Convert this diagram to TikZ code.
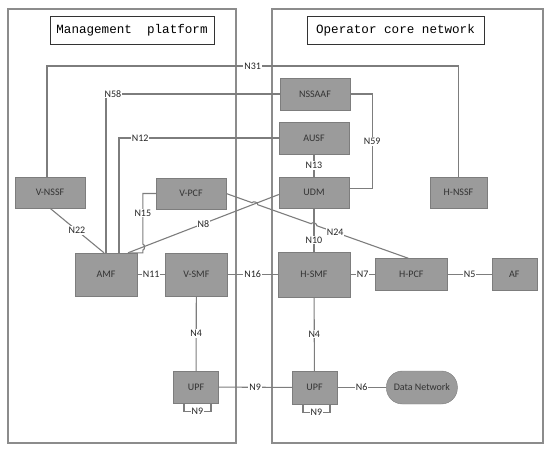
\documentclass[tikz,border=0pt]{standalone}
\usepackage{fontspec}
\setsansfont{Carlito}
\newfontfamily\titlemono{Liberation Mono}
\usetikzlibrary{positioning, calc}

\definecolor{boxgray}{RGB}{155,155,155}
\definecolor{linegray}{RGB}{125,125,125}
\definecolor{framegray}{RGB}{140,140,140}

\tikzset{
  nf/.style={draw=linegray, fill=boxgray, text=black!80, inner sep=0pt,
    font=\sffamily\fontsize{10}{12}\selectfont},
  lbl/.style={fill=white, text=black!85, inner sep=1pt,
    font=\sffamily\fontsize{10}{12}\selectfont},
  link/.style={draw=linegray, line width=1.1pt},
  frame/.style={draw=framegray, line width=1.1pt},
  titlebox/.style={draw=black!80, fill=white, line width=0.9pt, inner sep=0pt,
    minimum height=28pt, font=\titlemono\fontsize{12.6}{14}\selectfont}
}

\begin{document}
\begin{tikzpicture}[x=1pt, y=-1pt]
    \useasboundingbox (0,0) rectangle (550,451);

    \draw[frame] (8,9) rectangle (236,443);
    \draw[frame] (272,9) rectangle (543,443);

    \node [titlebox, minimum width=164pt] (mgmt) at (132,30) {Management\ \ platform};
    \node [titlebox, minimum width=177pt] (core) at (395.5,30) {Operator core network};

    \node [nf, minimum width=70pt, minimum height=31pt] (vnssf) at (50,192.5) {V-NSSF};
    \node [nf, minimum width=70pt, minimum height=31pt] (vpcf) at (191,193.5) {V-PCF};
    \node [nf, minimum width=70pt, minimum height=32pt] (nssaaf) at (315,94) {NSSAAF};
    \node [nf, minimum width=70pt, minimum height=32pt] (ausf) at (314,138) {AUSF};
    \node [nf, minimum width=70pt, minimum height=31pt] (udm) at (314,192.5) {UDM};
    \node [nf, minimum width=57pt, minimum height=31pt] (hnssf) at (458.5,192.5) {H-NSSF};

    \node [nf, minimum width=62pt, minimum height=43pt] (amf) at (106,274.5) {AMF};
    \node [nf, minimum width=62pt, minimum height=43pt, right=28pt of amf] (vsmf) {V-SMF};
    \node [nf, minimum width=72pt, minimum height=45pt] (hsmf) at (314,274.5) {H-SMF};
    \node [nf, minimum width=72pt, minimum height=32pt, right=25pt of hsmf] (hpcf) {H-PCF};
    \node [nf, minimum width=45pt, minimum height=32pt, right=44pt of hpcf] (af) {AF};

    \node [nf, minimum width=45pt, minimum height=32pt] (upfv) at (196,387) {UPF};
    \node [nf, minimum width=45pt, minimum height=33pt] (upfh) at (314.5,387.5) {UPF};
    \node [nf, minimum width=71pt, minimum height=33pt, rounded corners=16pt, right=49pt of upfh] (dn) {Data Network};

    \coordinate (top31) at (0,66);
    \coordinate (n8a) at ([xshift=22pt]amf.north);
    \coordinate (n8b) at ([yshift=-2pt]udm.west);
    \coordinate (n24a) at (vpcf.east);
    \coordinate (n24b) at ([xshift=-3pt]hpcf.north);
    \coordinate (n15a) at ([xshift=-13pt]vpcf.west);
    \coordinate (n15b) at (n15a |- amf.north);
    \coordinate (xa) at (intersection of n8a--n8b and n24a--n24b);
    \coordinate (xb) at (intersection of udm.south--hsmf.north and n24a--n24b);
    \coordinate (xc) at (intersection of n8a--n8b and n15a--n15b);

    \draw[link] ([xshift=-3pt]vnssf.north) |- node[lbl, pos=0.75] {N31} (hnssf.north |- top31) -- (hnssf.north);
    \draw[link] (amf.north) |- node[lbl, pos=0.52] {N58} (nssaaf.west);
    \draw[link] ([xshift=13pt]amf.north) |- node[lbl, pos=0.566] {N12} (ausf.west);
    \draw[link] (nssaaf.east) -- ++(22,0) |- node[lbl, pos=0.25] {N59} ([yshift=4pt]udm.east);
    \draw[link] (ausf) -- node[lbl] {N13} (udm);
    \draw[link] (vnssf.south) -- node[lbl] {N22} ([xshift=-2pt]amf.north);
    \draw[link] (n8a) -- node[lbl, pos=0.5] {N8} (n8b);
    \draw[link] (udm) -- node[lbl, pos=0.73] {N10} (hsmf);

    \draw[link] (vpcf.west) -- (n15a) -- node[lbl, pos=0.385] {N15} ($(xc)!3pt!(n15a)$)
      to[bend left=90] ($(xc)!3pt!(n15b)$) -- (n15b) -- ([xshift=24pt]amf.north);
    \draw[link] (n24a) -- ($(xa)!3pt!(n24a)$) to[bend left=90] ($(xa)!3pt!(xb)$)
      -- ($(xb)!3pt!(xa)$) to[bend left=90] ($(xb)!3pt!(n24b)$)
      -- node[lbl, pos=0.2] {N24} (n24b);

    \draw[link] (amf) -- node[lbl] {N11} (vsmf);
    \draw[link] (vsmf) -- node[lbl] {N16} (hsmf);
    \draw[link] (hsmf) -- node[lbl] {N7} (hpcf);
    \draw[link] (hpcf) -- node[lbl] {N5} (af);
    \draw[link] (vsmf) -- node[lbl] {N4} (upfv);
    \draw[link] (hsmf) -- node[lbl] {N4} (upfh);
    \draw[link] (upfv) -- node[lbl] {N9} (upfh);
    \draw[link] (upfh) -- node[lbl] {N6} (dn);

    \draw[link] ([xshift=-12pt]upfv.south) -- ++(0,8) -| node[lbl, pos=0.25] {N9} ([xshift=15pt]upfv.south);
    \draw[link] ([xshift=-11.5pt]upfh.south) -- ++(0,8) -| node[lbl, pos=0.25] {N9} ([xshift=15.5pt]upfh.south);
\end{tikzpicture}
\end{document}
